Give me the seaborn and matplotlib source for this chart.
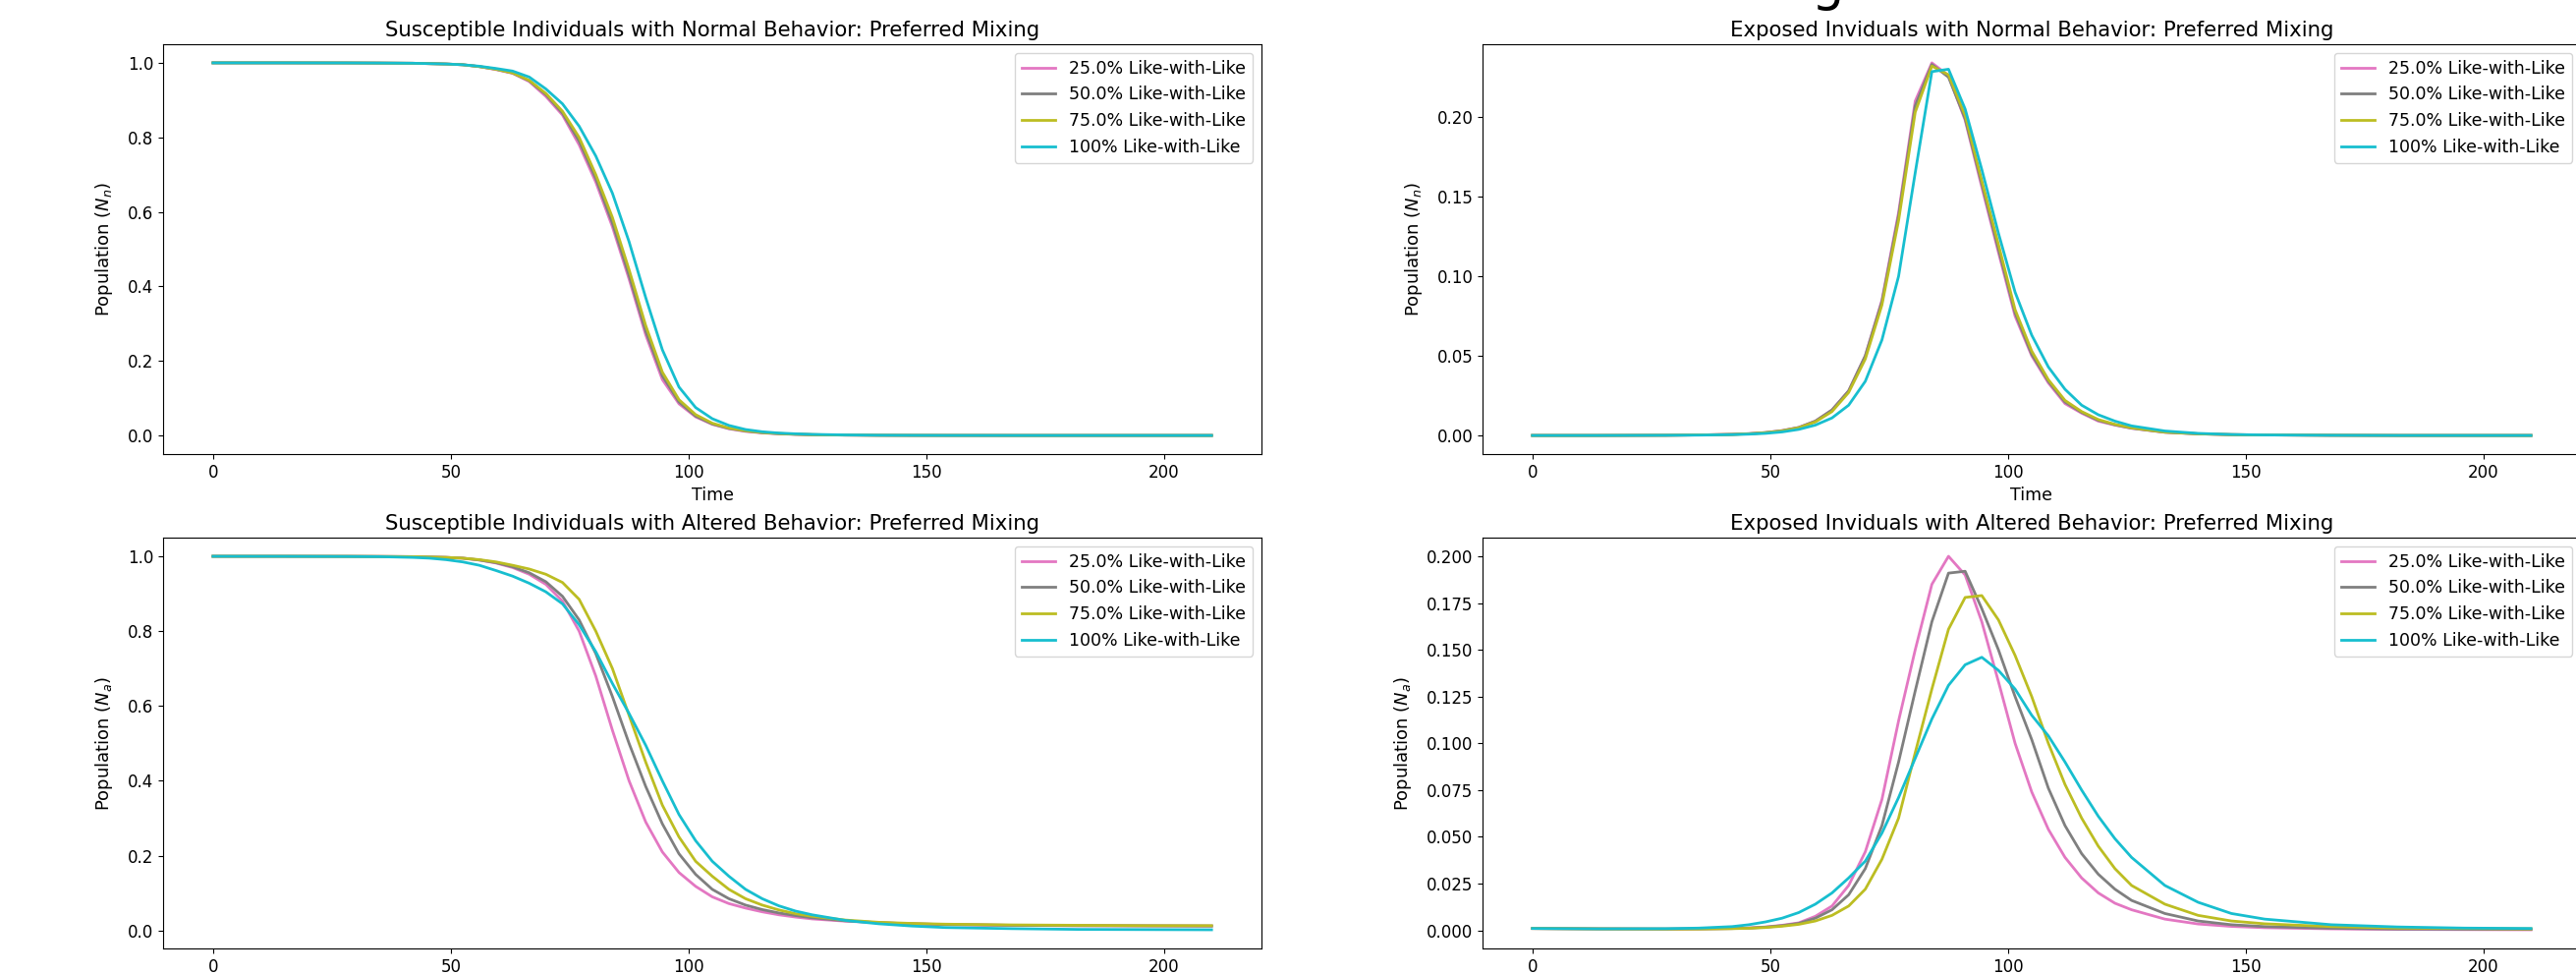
import matplotlib
matplotlib.use("Agg")
import matplotlib.pyplot as plt
import seaborn as sns
import pandas as pd
import numpy as np

# time points (days) shared by every curve
time = [0, 14, 28, 35, 42, 45.5, 49, 52.5, 56, 59.5, 63, 66.5, 70, 73.5, 77, 80.5,
        84, 87.5, 91, 94.5, 98, 101.5, 105, 108.5, 112, 115.5, 119, 122.5, 126,
        133, 140, 147, 154, 168, 182, 196, 210]

labels = ["25.0% Like-with-Like", "50.0% Like-with-Like",
          "75.0% Like-with-Like", "100% Like-with-Like"]
colors = ["tab:pink", "tab:gray", "tab:olive", "tab:cyan"]

# susceptible, normal behavior
s_n_25 = [1.0, 1.0, 0.9998, 0.9995, 0.999, 0.998, 0.997, 0.995, 0.99, 0.982, 0.972, 0.95, 0.91,
          0.86, 0.78, 0.68, 0.56, 0.42, 0.27, 0.15, 0.085, 0.05, 0.03, 0.018, 0.011, 0.007,
          0.0045, 0.003, 0.002, 0.001, 0.0005, 0.0003, 0.0002, 0.0001, 0.0001, 0.0001, 0.0001]
s_n_50 = [1.0, 1.0, 0.9998, 0.9995, 0.999, 0.998, 0.997, 0.995, 0.99, 0.983, 0.973, 0.952, 0.915,
          0.865, 0.79, 0.69, 0.57, 0.43, 0.28, 0.16, 0.09, 0.052, 0.031, 0.019, 0.012, 0.0075,
          0.005, 0.0032, 0.0021, 0.001, 0.0005, 0.0003, 0.0002, 0.0001, 0.0001, 0.0001, 0.0001]
s_n_75 = [1.0, 1.0, 0.9998, 0.9995, 0.999, 0.998, 0.997, 0.995, 0.99, 0.983, 0.973, 0.953, 0.918,
          0.87, 0.80, 0.70, 0.585, 0.445, 0.295, 0.17, 0.096, 0.056, 0.033, 0.02, 0.013, 0.008,
          0.0052, 0.0034, 0.0022, 0.0011, 0.0005, 0.0003, 0.0002, 0.0001, 0.0001, 0.0001, 0.0001]
s_n_100 = [1.0, 1.0, 0.9998, 0.9995, 0.999, 0.998, 0.997, 0.995, 0.991, 0.985, 0.978, 0.962, 0.93,
           0.89, 0.83, 0.75, 0.65, 0.52, 0.37, 0.23, 0.13, 0.075, 0.045, 0.027, 0.016, 0.01,
           0.0065, 0.0045, 0.003, 0.0015, 0.0007, 0.0004, 0.0002, 0.0001, 0.0001, 0.0001, 0.0001]

# exposed, normal behavior
e_n_25 = [0.0, 0.0, 0.0001, 0.0003, 0.0007, 0.0011, 0.0018, 0.003, 0.005, 0.009, 0.016, 0.028, 0.05,
          0.085, 0.14, 0.21, 0.234, 0.226, 0.198, 0.156, 0.115, 0.075, 0.05, 0.033, 0.02, 0.014,
          0.009, 0.0065, 0.0045, 0.002, 0.001, 0.0005, 0.0003, 0.0001, 0.0, 0.0, 0.0]
e_n_50 = [0.0, 0.0, 0.0001, 0.0003, 0.0007, 0.0011, 0.0018, 0.003, 0.005, 0.009, 0.016, 0.028, 0.05,
          0.084, 0.138, 0.207, 0.233, 0.225, 0.199, 0.158, 0.117, 0.077, 0.051, 0.034, 0.021, 0.0145,
          0.0095, 0.0067, 0.0046, 0.002, 0.001, 0.0005, 0.0003, 0.0001, 0.0, 0.0, 0.0]
e_n_75 = [0.0, 0.0, 0.0001, 0.0003, 0.0006, 0.001, 0.0017, 0.0028, 0.0048, 0.0085, 0.015, 0.027, 0.048,
          0.082, 0.135, 0.203, 0.232, 0.2265, 0.201, 0.16, 0.12, 0.079, 0.053, 0.035, 0.022, 0.015,
          0.01, 0.007, 0.0048, 0.0021, 0.001, 0.0005, 0.0003, 0.0001, 0.0, 0.0, 0.0]
e_n_100 = [0.0, 0.0, 0.0001, 0.0002, 0.0005, 0.0008, 0.0013, 0.0022, 0.0038, 0.0065, 0.011, 0.019, 0.034,
           0.06, 0.10, 0.165, 0.2285, 0.230, 0.205, 0.167, 0.127, 0.09, 0.063, 0.043, 0.029, 0.019,
           0.013, 0.009, 0.006, 0.0028, 0.0013, 0.0006, 0.0003, 0.0001, 0.0, 0.0, 0.0]

# susceptible, altered behavior
s_a_25 = [1.0, 1.0, 0.9998, 0.9995, 0.999, 0.998, 0.997, 0.995, 0.99, 0.982, 0.97, 0.952, 0.925,
          0.88, 0.80, 0.68, 0.535, 0.40, 0.29, 0.21, 0.155, 0.118, 0.09, 0.072, 0.06, 0.05,
          0.042, 0.036, 0.031, 0.025, 0.021, 0.018, 0.016, 0.014, 0.013, 0.0125, 0.012]
s_a_50 = [1.0, 1.0, 0.9998, 0.9995, 0.999, 0.998, 0.997, 0.995, 0.99, 0.983, 0.972, 0.956, 0.932,
          0.893, 0.83, 0.74, 0.625, 0.50, 0.385, 0.285, 0.205, 0.15, 0.11, 0.085, 0.068, 0.056,
          0.047, 0.04, 0.034, 0.026, 0.021, 0.018, 0.016, 0.014, 0.013, 0.0125, 0.012]
s_a_75 = [1.0, 1.0, 0.9998, 0.9995, 0.999, 0.998, 0.997, 0.995, 0.991, 0.985, 0.976, 0.966, 0.952,
          0.93, 0.885, 0.80, 0.70, 0.575, 0.45, 0.335, 0.25, 0.185, 0.145, 0.11, 0.085, 0.068,
          0.055, 0.045, 0.038, 0.028, 0.022, 0.019, 0.017, 0.015, 0.014, 0.013, 0.013]
s_a_100 = [1.0, 0.9999, 0.9995, 0.999, 0.997, 0.995, 0.991, 0.985, 0.976, 0.962, 0.947, 0.928, 0.905,
           0.873, 0.817, 0.745, 0.66, 0.58, 0.495, 0.40, 0.31, 0.24, 0.185, 0.145, 0.11, 0.085,
           0.066, 0.052, 0.042, 0.027, 0.018, 0.012, 0.008, 0.005, 0.003, 0.0025, 0.002]

# exposed, altered behavior
e_a_25 = [0.001, 0.0008, 0.0007, 0.0008, 0.001, 0.0013, 0.0018, 0.0027, 0.004, 0.0075, 0.013, 0.024, 0.042,
          0.07, 0.112, 0.15, 0.185, 0.2, 0.19, 0.165, 0.133, 0.1, 0.074, 0.054, 0.039, 0.028,
          0.02, 0.0145, 0.011, 0.006, 0.0034, 0.0021, 0.0014, 0.0008, 0.0005, 0.0004, 0.0003]
e_a_50 = [0.001, 0.0008, 0.0007, 0.0008, 0.001, 0.0012, 0.0017, 0.0025, 0.0037, 0.0065, 0.011, 0.019, 0.033,
          0.056, 0.09, 0.128, 0.165, 0.191, 0.192, 0.172, 0.15, 0.125, 0.102, 0.076, 0.056, 0.041,
          0.03, 0.022, 0.016, 0.009, 0.005, 0.003, 0.002, 0.0011, 0.0007, 0.0006, 0.0005]
e_a_75 = [0.001, 0.0008, 0.0007, 0.0007, 0.0009, 0.0011, 0.0015, 0.0022, 0.0032, 0.005, 0.008, 0.013, 0.022,
          0.038, 0.06, 0.095, 0.129, 0.161, 0.178, 0.179, 0.166, 0.147, 0.125, 0.10, 0.078, 0.06,
          0.045, 0.033, 0.024, 0.014, 0.008, 0.005, 0.0035, 0.002, 0.0012, 0.001, 0.0008]
e_a_100 = [0.001, 0.0008, 0.0009, 0.0012, 0.002, 0.003, 0.0045, 0.0065, 0.0095, 0.014, 0.02, 0.028, 0.037,
           0.052, 0.071, 0.092, 0.113, 0.131, 0.142, 0.146, 0.139, 0.129, 0.115, 0.104, 0.09, 0.075,
           0.061, 0.049, 0.039, 0.024, 0.015, 0.009, 0.006, 0.003, 0.0018, 0.0012, 0.001]

W, H = 2622, 991
fig = plt.figure(figsize=(W / 100, H / 100), dpi=100)


def box(x0, y0, x1, y1):
    # pixel box -> figure fraction
    return [x0 / W, 1 - y1 / H, (x1 - x0) / W, (y1 - y0) / H]


def panel(rect, series, title, ylabel):
    ax = fig.add_axes(rect)
    df = pd.DataFrame({
        "Time": time * len(series),
        "Population": sum(series, []),
        "Mixing": np.repeat(labels, len(time)),
    })
    sns.lineplot(data=df, x="Time", y="Population", hue="Mixing",
                 palette=dict(zip(labels, colors)), estimator=None, sort=False,
                 linewidth=2, ax=ax)
    ax.set_title(title, fontsize=15.3)
    ax.set_xlabel("Time", fontsize=12.5)
    ax.set_ylabel(ylabel, fontsize=13, labelpad=9)
    ax.tick_params(labelsize=12)
    ax.legend(loc="upper right", fontsize=12.5)
    return ax


panel(box(166, 45, 1284, 462), [s_n_25, s_n_50, s_n_75, s_n_100],
      "Susceptible Individuals with Normal Behavior: Preferred Mixing", "Population ($N_n$)")
panel(box(1509, 45, 2627, 462), [e_n_25, e_n_50, e_n_75, e_n_100],
      "Exposed Inviduals with Normal Behavior: Preferred Mixing", "Population ($N_n$)")
panel(box(166, 547, 1284, 965), [s_a_25, s_a_50, s_a_75, s_a_100],
      "Susceptible Individuals with Altered Behavior: Preferred Mixing", "Population ($N_a$)")
panel(box(1509, 547, 2627, 965), [e_a_25, e_a_50, e_a_75, e_a_100],
      "Exposed Inviduals with Altered Behavior: Preferred Mixing", "Population ($N_a$)")

# descender of a cropped heading at the very top
fig.text(1860 / W, 1.0, "g", fontsize=38, ha="center", va="baseline")

fig.savefig("out.png", dpi=100)
